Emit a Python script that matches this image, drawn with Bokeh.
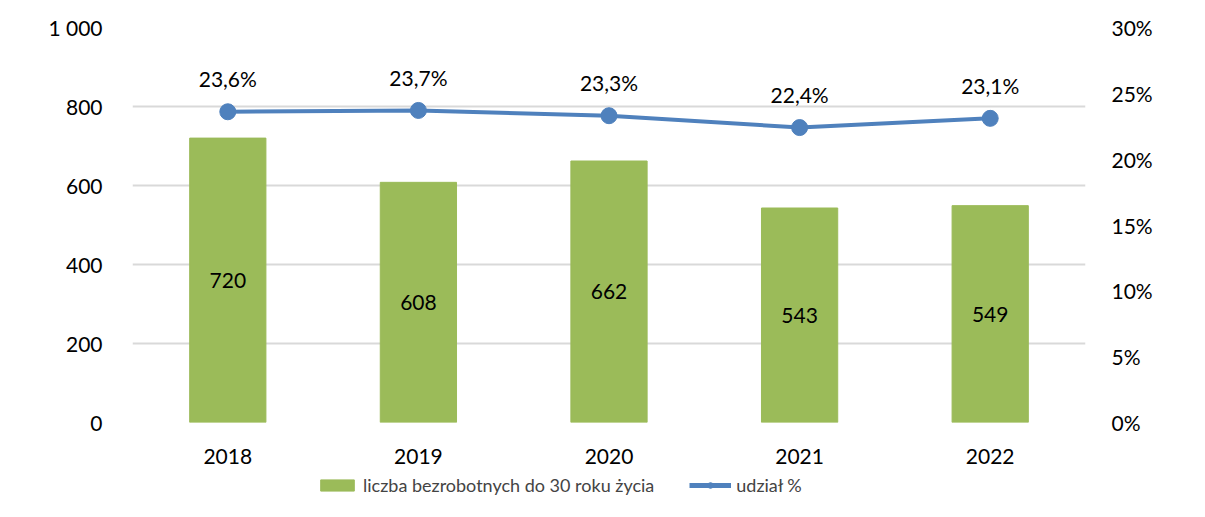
from bokeh.plotting import figure
from bokeh.layouts import column
from bokeh.models import (ColumnDataSource, Range1d, LinearAxis, FixedTicker,
                          Legend, LegendItem)
from bokeh.core.properties import value
from bokeh.embed import file_html
from bokeh.resources import INLINE

years = ["2018", "2019", "2020", "2021", "2022"]
unemployed = [720, 608, 662, 543, 549]
share_pct = [23.6, 23.7, 23.3, 22.4, 23.1]
left_ticks = [0, 200, 400, 600, 800, 1000]
left_labels = ["0", "200", "400", "600", "800", "1 000"]
right_ticks = [0, 5, 10, 15, 20, 25, 30]
right_labels = ["0%", "5%", "10%", "15%", "20%", "25%", "30%"]
bar_name = "liczba bezrobotnych do 30 roku życia"
line_name = "udział %"

FONT = "Lato"
FS = "21px"
GREEN = "#9bbb59"
BLUE = "#4f81bd"

src = ColumnDataSource(dict(
    year=years,
    n=unemployed,
    half=[v / 2 for v in unemployed],
    nlab=[str(v) for v in unemployed],
    pct=share_pct,
    plab=[f"{v:.1f}".replace(".", ",") + "%" for v in share_pct],
))

p = figure(x_range=years, y_range=Range1d(0, 1000), width=1205, height=470,
           output_backend="svg", toolbar_location=None,
           min_border_left=132, min_border_right=120, min_border_top=27,
           min_border_bottom=48)
p.outline_line_color = None
p.extra_y_ranges = {"pct": Range1d(0, 30)}

p.vbar(x="year", top="n", width=0.4, source=src, color=GREEN)
p.text(x="year", y="half", text="nlab", source=src, text_align="center",
       text_baseline="middle", text_font=value(FONT), text_font_size=FS,
       text_color="black")

p.line(x="year", y="pct", source=src, y_range_name="pct", color=BLUE,
       line_width=4)
p.scatter(x="year", y="pct", source=src, y_range_name="pct", size=16,
          color=BLUE)
p.text(x="year", y="pct", text="plab", source=src, y_range_name="pct",
       text_align="center", text_baseline="middle", y_offset=-33,
       text_font=value(FONT), text_font_size=FS, text_color="black")

p.xgrid.grid_line_color = None
p.ygrid.grid_line_color = "#d9d9d9"
p.ygrid.grid_line_width = 2
p.ygrid.ticker = FixedTicker(ticks=left_ticks)

for ax in [p.yaxis[0], p.xaxis[0]]:
    ax.axis_line_color = None
    ax.major_tick_line_color = None
    ax.minor_tick_line_color = None
    ax.major_label_text_font = FONT
    ax.major_label_text_font_size = FS
    ax.major_label_text_color = "black"

p.yaxis[0].ticker = FixedTicker(ticks=left_ticks)
p.yaxis[0].major_label_overrides = {t: l for t, l in zip(left_ticks, left_labels)}
p.yaxis[0].major_label_standoff = 24
p.xaxis[0].major_label_standoff = 20

ra = LinearAxis(y_range_name="pct", ticker=FixedTicker(ticks=right_ticks),
                major_label_overrides={t: l for t, l in zip(right_ticks, right_labels)})
ra.axis_line_color = None
ra.major_tick_line_color = None
ra.minor_tick_line_color = None
ra.major_label_text_font = FONT
ra.major_label_text_font_size = FS
ra.major_label_text_color = "black"
ra.major_label_standoff = 20
p.add_layout(ra, "right")

# legend strip below the chart (same data, range chosen so marks stay out of view)
lg = figure(width=1205, height=47, x_range=years, y_range=Range1d(5000, 6000),
            output_backend="svg", toolbar_location=None,
            x_axis_type=None, y_axis_type=None,
            min_border_left=0, min_border_right=0, min_border_top=0,
            min_border_bottom=0)
lg.outline_line_color = None
lg.grid.visible = False
lb = lg.vbar(x="year", top="n", width=0.4, source=src, color=GREEN)
ll = lg.line(x="year", y="pct", source=src, color=BLUE, line_width=5)
ls = lg.scatter(x="year", y="pct", source=src, size=14, color=BLUE)

legend = Legend(items=[LegendItem(label=bar_name, renderers=[lb]),
                       LegendItem(label=line_name, renderers=[ll, ls])],
                orientation="horizontal", location=(184, 21),
                label_text_font=FONT, label_text_font_size="18px",
                glyph_width=42, glyph_height=14, label_standoff=5,
                spacing=35, border_line_color=None, background_fill_alpha=0,
                padding=4, margin=0)
lg.add_layout(legend, "center")

layout = column(p, lg, spacing=0)
open("out.html", "w").write(file_html(layout, INLINE))
